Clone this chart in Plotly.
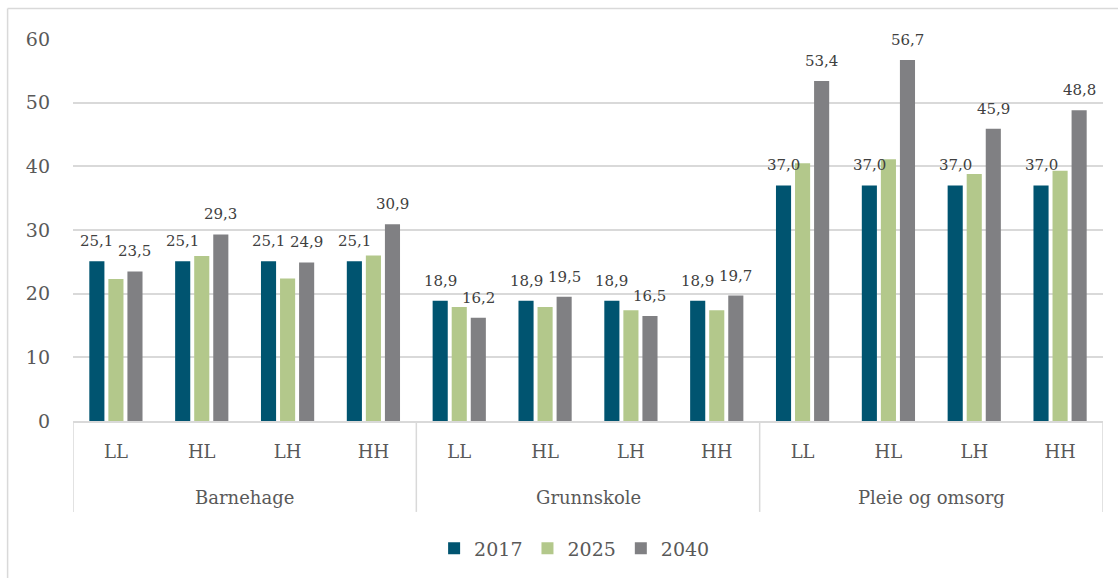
import plotly.graph_objects as go

# Sectors and scenarios
groups = ["Barnehage", "Grunnskole", "Pleie og omsorg"]
scenarios = ["LL", "HL", "LH", "HH"]

# Values per sector/scenario, in order Barnehage (LL, HL, LH, HH), Grunnskole (...), Pleie og omsorg (...)
v2017 = [25.1, 25.1, 25.1, 25.1, 18.9, 18.9, 18.9, 18.9, 37.0, 37.0, 37.0, 37.0]
v2025 = [22.3, 25.9, 22.4, 26.0, 17.9, 17.9, 17.4, 17.4, 40.5, 41.1, 38.8, 39.3]
v2040 = [23.5, 29.3, 24.9, 30.9, 16.2, 19.5, 16.5, 19.7, 53.4, 56.7, 45.9, 48.8]

# Bar geometry within each category slot (x units)
BAR_W = 0.176
BAR_STEP = 0.222
offsets = [-BAR_W / 2 - BAR_STEP, -BAR_W / 2, -BAR_W / 2 + BAR_STEP]

series = [("2017", v2017, "#005470", True),
          ("2025", v2025, "#B3C88B", False),
          ("2040", v2040, "#808083", True)]

n_sub = len(scenarios)
xpos = list(range(len(groups) * n_sub))
ticktext = scenarios * len(groups)

FONT = "DejaVu Serif"
TXT = "#595959"

fig = go.Figure()
annotations = []
for (name, vals, color, labelled), off in zip(series, offsets):
    fig.add_trace(go.Bar(
        name=name, x=xpos, y=vals,
        width=BAR_W, offset=off,
        marker=dict(color=color, line=dict(width=0)),
    ))
    if labelled:
        for xi, v in zip(xpos, vals):
            annotations.append(dict(
                x=xi + off + BAR_W / 2, y=v, xref="x", yref="y",
                text=f"{v:.1f}".replace(".", ","), showarrow=False,
                yanchor="bottom", yshift=9,
                font=dict(family=FONT, size=15, color="#404040")))

# Group labels below the scenario labels
for gi, g in enumerate(groups):
    annotations.append(dict(
        x=gi * n_sub + (n_sub - 1) / 2, y=-0.2, xref="x", yref="paper",
        text=g, showarrow=False, yanchor="middle",
        font=dict(family=FONT, size=18, color=TXT)))

# Divider lines of the category axis
shapes = []
for k in range(len(groups) + 1):
    xb = k * n_sub - 0.5
    shapes.append(dict(type="line", xref="x", yref="paper", x0=xb, x1=xb,
                       y0=0, y1=-0.238, line=dict(color="#D9D9D9", width=1.5)))

# Outer chart border (left and top edges)
shapes.append(dict(type="line", xref="paper", yref="paper", x0=-0.0635, x1=-0.0635,
                   y0=1.08, y1=-0.5, line=dict(color="#D9D9D9", width=1.5)))
shapes.append(dict(type="line", xref="paper", yref="paper", x0=-0.0635, x1=1.05,
                   y0=1.08, y1=1.08, line=dict(color="#D9D9D9", width=1.5)))

fig.update_layout(
    width=1118, height=578,
    margin=dict(l=73, r=15, t=39, b=156),
    paper_bgcolor="white", plot_bgcolor="white",
    barmode="overlay",
    font=dict(family=FONT, size=18, color=TXT),
    showlegend=True,
    legend=dict(orientation="h", x=0.487, xanchor="center", y=-0.33, yanchor="middle",
                font=dict(family=FONT, size=19, color=TXT), itemwidth=30,
                traceorder="normal"),
    annotations=annotations,
    shapes=shapes,
)
fig.update_xaxes(
    tickmode="array", tickvals=xpos, ticktext=ticktext,
    range=[-0.5, len(xpos) - 0.5],
    showline=True, linecolor="#D9D9D9", linewidth=1.5,
    showgrid=False, ticks="", ticklabelstandoff=14,
    tickfont=dict(family=FONT, size=18, color=TXT),
)
fig.update_yaxes(
    range=[0, 60], dtick=10, showgrid=True, gridcolor="#D9D9D9", gridwidth=1.5,
    zeroline=False, showline=False, ticks="",
    ticklabelstandoff=22,
    tickfont=dict(family=FONT, size=19, color=TXT),
)

fig.write_html("out.html")
